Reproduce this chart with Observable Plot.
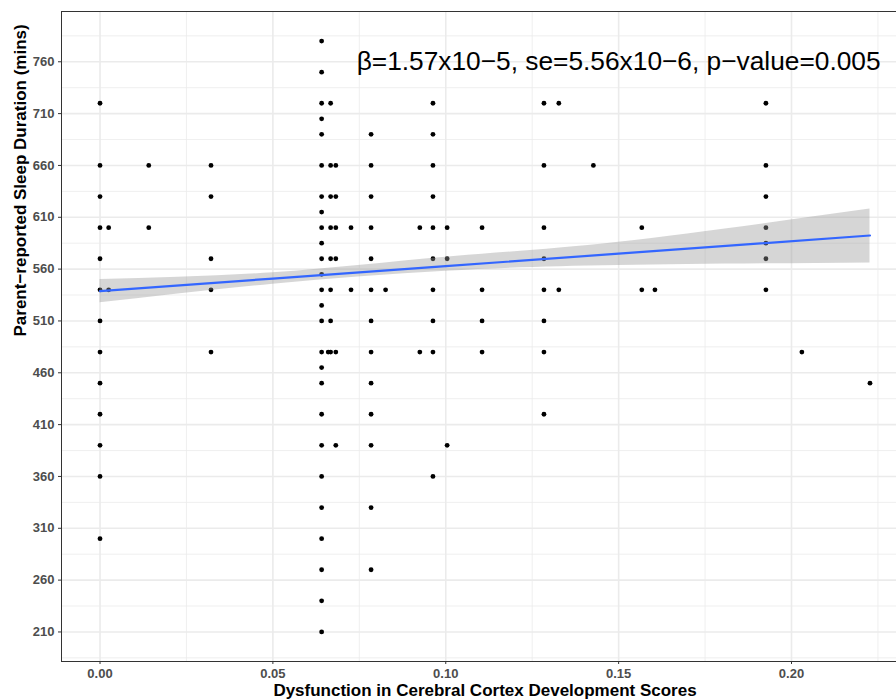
<!DOCTYPE html>
<html><head><meta charset="utf-8">
<script src="https://cdn.jsdelivr.net/npm/d3@7"></script>
<script src="https://cdn.jsdelivr.net/npm/@observablehq/plot@0.6"></script>
<style>
html,body{margin:0;padding:0;overflow:hidden;background:#fff;}
#chart{width:896px;height:699px;overflow:hidden;}
#chart svg{max-width:none !important;}
</style></head><body><div id="chart"></div>
<script>
// Axis ticks
const xTicks = [0, 0.05, 0.10, 0.15, 0.20];
const xMinor = [0.025, 0.075, 0.125, 0.175, 0.225];
const yTicks = [210, 260, 310, 360, 410, 460, 510, 560, 610, 660, 710, 760];
const yMinor = [185, 235, 285, 335, 385, 435, 485, 535, 585, 635, 685, 735, 785];

// Scatter points: x column value and the sleep values observed in that column
const scoreColumns = [0.000, 0.0025, 0.0141, 0.0321, 0.0641, 0.0660, 0.0667, 0.0682, 0.0726, 0.0784, 0.0826,
  0.0925, 0.0963, 0.1004, 0.1105, 0.1284, 0.1327, 0.1427, 0.1567, 0.1605, 0.1926, 0.2030, 0.2227];
const sleepByColumn = [
  [720, 660, 630, 600, 570, 540, 510, 480, 450, 420, 390, 360, 300],
  [600, 540],
  [660, 600],
  [660, 630, 570, 540, 480],
  [780, 750, 720, 705, 690, 660, 630, 615, 600, 585, 570, 555, 540, 525, 510, 480, 465, 450, 420, 390, 360, 330, 300, 270, 240, 210],
  [480],
  [720, 660, 630, 600, 570, 540, 510, 480],
  [660, 630, 600, 570, 480, 390],
  [600, 540],
  [690, 660, 630, 600, 570, 540, 510, 480, 450, 420, 390, 330, 270],
  [540],
  [600, 480],
  [720, 690, 660, 630, 600, 570, 540, 510, 480, 360],
  [600, 570, 390],
  [600, 540, 510, 480],
  [720, 660, 600, 570, 540, 510, 480, 420],
  [720, 540],
  [660],
  [600, 540],
  [540],
  [720, 660, 630, 600, 585, 570, 540],
  [480],
  [450]
];

// Fitted line and 95% band
const fitX = [0, 0.05, 0.10, 0.15, 0.2227];
const fitY = [538.8, 550.9, 562.9, 574.9, 592.4];
const bandLo = [527.5, 545.5, 558.0, 563.5, 566.0];
const bandHi = [550.0, 556.5, 571.5, 586.0, 618.0];

const annotation = "β=1.57x10−5, se=5.56x10−6, p−value=0.005";
const xTitle = "Dysfunction in Cerebral Cortex Development Scores";
const yTitle = "Parent−reported Sleep Duration (mins)";

const points = [];
scoreColumns.forEach((x, i) => sleepByColumn[i].forEach(y => points.push({x, y})));
const fit = fitX.map((x, i) => ({x, y: fitY[i], lo: bandLo[i], hi: bandHi[i]}));

const font = "'Liberation Sans', Arial, Helvetica, sans-serif";
const plot = Plot.plot({
  width: 908, height: 699,
  marginLeft: 61, marginRight: 0, marginTop: 11, marginBottom: 38,
  style: {fontFamily: font, background: "#fff", overflow: "visible", maxWidth: "none"},
  x: {domain: [-0.01114, 0.23384]},
  y: {domain: [181.5, 808.5]},
  marks: [
    Plot.ruleY(yMinor, {stroke: "#ebebeb", strokeWidth: 0.8}),
    Plot.ruleX(xMinor, {stroke: "#ebebeb", strokeWidth: 0.8}),
    Plot.ruleY(yTicks, {stroke: "#ebebeb", strokeWidth: 1.6}),
    Plot.ruleX(xTicks, {stroke: "#ebebeb", strokeWidth: 1.6}),
    Plot.dot(points, {x: "x", y: "y", r: 2.4, fill: "#000", stroke: null}),
    Plot.areaY(fit, {x: "x", y1: "lo", y2: "hi", fill: "#999999", fillOpacity: 0.4, curve: "natural"}),
    Plot.line(fit, {x: "x", y: "y", stroke: "#3366FF", strokeWidth: 2.2}),
    Plot.frame({stroke: "#333", strokeWidth: 1}),
    Plot.axisX({ticks: xTicks, tickFormat: d3.format(".2f"), tickSize: 3, tickPadding: 4, fontSize: 13, fontWeight: "bold", fill: "#4d4d4d", stroke: "#333", label: null}),
    Plot.axisY({ticks: yTicks, tickSize: 3, tickPadding: 4, fontSize: 13, fontWeight: "bold", fill: "#4d4d4d", stroke: "#333", label: null}),
    Plot.text([annotation], {x: () => 0.15, y: () => 760, fontSize: 26.3, textAnchor: "middle", lineAnchor: "middle", fill: "#000"}),
    Plot.text([xTitle], {frameAnchor: "bottom", dx: 0, dy: 29, fontSize: 17, fontWeight: "bold", lineAnchor: "middle", fill: "#000"}),
    Plot.text([yTitle], {frameAnchor: "left", dx: -36, dy: 0, rotate: -90, fontSize: 17, fontWeight: "bold", lineAnchor: "bottom", fill: "#000"})
  ]
});
document.getElementById("chart").appendChild(plot);
</script></body></html>
